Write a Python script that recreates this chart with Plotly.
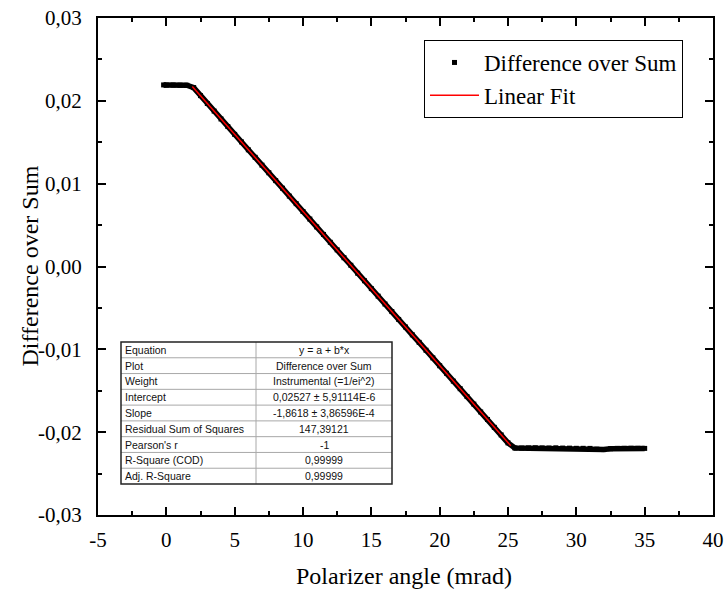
import plotly.graph_objects as go

# ---- data ----
x_data = [-0.2, 0.0, 0.5, 1.0, 1.5, 2.0, 2.5, 3.0, 3.5, 4.0, 4.5, 5.0, 5.5, 6.0, 6.5,
          7.0, 7.5, 8.0, 8.5, 9.0, 9.5, 10.0, 10.5, 11.0, 11.5, 12.0, 12.5, 13.0, 13.5,
          14.0, 14.5, 15.0, 15.5, 16.0, 16.5, 17.0, 17.5, 18.0, 18.5, 19.0, 19.5, 20.0,
          20.5, 21.0, 21.5, 22.0, 22.5, 23.0, 23.5, 24.0, 24.5, 25.0, 25.5, 26.0, 26.5,
          27.0, 27.5, 28.0, 28.5, 29.0, 29.5, 30.0, 30.5, 31.0, 31.5, 32.0, 32.5, 33.0,
          33.5, 34.0, 34.5, 35.0]
y_data = [0.02192, 0.02190, 0.02191, 0.02189, 0.02188, 0.02160, 0.02063, 0.01968, 0.01876,
          0.01781, 0.01690, 0.01595, 0.01504, 0.01409, 0.01318, 0.01223, 0.01132, 0.01037,
          0.00945, 0.00850, 0.00759, 0.00664, 0.00573, 0.00478, 0.00387, 0.00292, 0.00201,
          0.00106, 0.00015, -0.00081, -0.00172, -0.00267, -0.00358, -0.00453, -0.00544,
          -0.00639, -0.00730, -0.00825, -0.00916, -0.01011, -0.01103, -0.01198, -0.01289,
          -0.01384, -0.01475, -0.01570, -0.01661, -0.01756, -0.01847, -0.01942, -0.02033,
          -0.02129, -0.02190, -0.02192, -0.02190, -0.02188, -0.02190, -0.02191, -0.02189,
          -0.02192, -0.02193, -0.02195, -0.02195, -0.02196, -0.02205, -0.02210, -0.02200,
          -0.02196, -0.02195, -0.02194, -0.02195, -0.02196]

x_fit = [1.9, 25.2]
y_fit = [0.021733, -0.021647]

x_tickvals = [-5, 0, 5, 10, 15, 20, 25, 30, 35, 40]
x_ticktext = ["-5", "0", "5", "10", "15", "20", "25", "30", "35", "40"]
y_tickvals = [-0.03, -0.02, -0.01, 0.0, 0.01, 0.02, 0.03]
y_ticktext = ["-0,03", "-0,02", "-0,01", "0,00", "0,01", "0,02", "0,03"]

x_title = "Polarizer angle (mrad)"
y_title = "Difference over Sum"

table_labels = ["Equation", "Plot", "Weight", "Intercept", "Slope",
                "Residual Sum of Squares", "Pearson's r", "R-Square (COD)", "Adj. R-Square"]
table_values = ["y = a + b*x", "Difference over Sum", "Instrumental (=1/ei^2)",
                "0,02527 ± 5,91114E-6", "-1,8618 ± 3,86596E-4", "147,39121", "-1",
                "0,99999", "0,99999"]

# ---- layout geometry ----
W, H = 724, 589
ML, MR, MT, MB = 98, 11, 18, 74
PW, PH = W - ML - MR, H - MT - MB


def px_x(p):
    return (p - ML) / PW


def px_y(p):
    return (H - MB - p) / PH


serif = "Liberation Serif, Times New Roman, serif"
sans = "Liberation Sans, Arial, sans-serif"

fig = go.Figure()

# thick band under data points
fig.add_trace(go.Scatter(x=x_data, y=y_data, mode="lines",
                         line=dict(color="black", width=5.5), showlegend=False,
                         hoverinfo="skip"))
fig.add_trace(go.Scatter(x=x_data, y=y_data, mode="markers", name="Difference over Sum",
                         marker=dict(symbol="square", size=5, color="black")))
fig.add_trace(go.Scatter(x=x_fit, y=y_fit, mode="lines", name="Linear Fit",
                         line=dict(color="#ff0000", width=1.5)))

# ---- statistics table (shapes + text) ----
T_L, T_R, T_MID, T_TOP, T_BOT = 121, 392, 256, 342, 484
n_rows = len(table_labels)
row_h = (T_BOT - T_TOP) / n_rows
shapes = []
for i in range(1, n_rows):
    yy = px_y(T_TOP + i * row_h)
    shapes.append(dict(type="line", xref="paper", yref="paper", x0=px_x(T_L), x1=px_x(T_R),
                       y0=yy, y1=yy, line=dict(color="#a8a8a8", width=1)))
shapes.append(dict(type="line", xref="paper", yref="paper", x0=px_x(T_MID), x1=px_x(T_MID),
                   y0=px_y(T_TOP), y1=px_y(T_BOT), line=dict(color="#a8a8a8", width=1)))
shapes.append(dict(type="rect", xref="paper", yref="paper", x0=px_x(T_L), x1=px_x(T_R),
                   y0=px_y(T_BOT), y1=px_y(T_TOP), line=dict(color="#222", width=1.5),
                   fillcolor="rgba(255,255,255,0)", layer="above"))
annotations = []
for i, (lab, val) in enumerate(zip(table_labels, table_values)):
    yc = px_y(T_TOP + (i + 0.5) * row_h)
    annotations.append(dict(xref="paper", yref="paper", x=px_x(T_L + 2), y=yc, text=lab,
                            showarrow=False, xanchor="left", yanchor="middle",
                            font=dict(family=sans, size=10.5, color="#111")))
    annotations.append(dict(xref="paper", yref="paper", x=px_x((T_MID + T_R) / 2), y=yc,
                            text=val, showarrow=False, xanchor="center", yanchor="middle",
                            font=dict(family=sans, size=10.5, color="#111")))

# axis titles as annotations (fixed positions, no automargin)
annotations.append(dict(xref="paper", yref="paper", x=px_x(404), y=px_y(576), text=x_title,
                        showarrow=False, xanchor="center", yanchor="middle",
                        font=dict(family=serif, size=24, color="black")))
annotations.append(dict(xref="paper", yref="paper", x=px_x(29), y=0.5, text=y_title,
                        showarrow=False, xanchor="center", yanchor="middle", textangle=-90,
                        font=dict(family=serif, size=24, color="black")))

axis_common = dict(showgrid=False, zeroline=False, showline=True, linecolor="black",
                   linewidth=2, mirror="allticks", ticks="inside", ticklen=8,
                   tickwidth=1.5, tickcolor="black", automargin=False,
                   tickfont=dict(family=serif, size=21, color="black"))

fig.update_xaxes(range=[-5, 40], tickvals=x_tickvals, ticktext=x_ticktext,
                 minor=dict(ticks="inside", ticklen=4, dtick=2.5, tickwidth=1.5,
                            tickcolor="black"),
                 ticklabelstandoff=5,
                 **axis_common)
fig.update_yaxes(range=[-0.03, 0.03], tickvals=y_tickvals, ticktext=y_ticktext,
                 minor=dict(ticks="inside", ticklen=4, dtick=0.005, tickwidth=1.5,
                            tickcolor="black"),
                 ticklabelstandoff=10,
                 **axis_common)

fig.update_layout(
    width=W, height=H,
    margin=dict(l=ML, r=MR, t=MT, b=MB, pad=0, autoexpand=False),
    paper_bgcolor="white", plot_bgcolor="white",
    font=dict(family=serif, color="black"),
    showlegend=True,
    shapes=shapes, annotations=annotations,
    legend=dict(x=px_x(424), y=px_y(40), xanchor="left", yanchor="top",
                bgcolor="white", bordercolor="black", borderwidth=1,
                font=dict(family=serif, size=23, color="black"),
                itemwidth=49, tracegroupgap=0),
)

fig.write_html("out.html")
